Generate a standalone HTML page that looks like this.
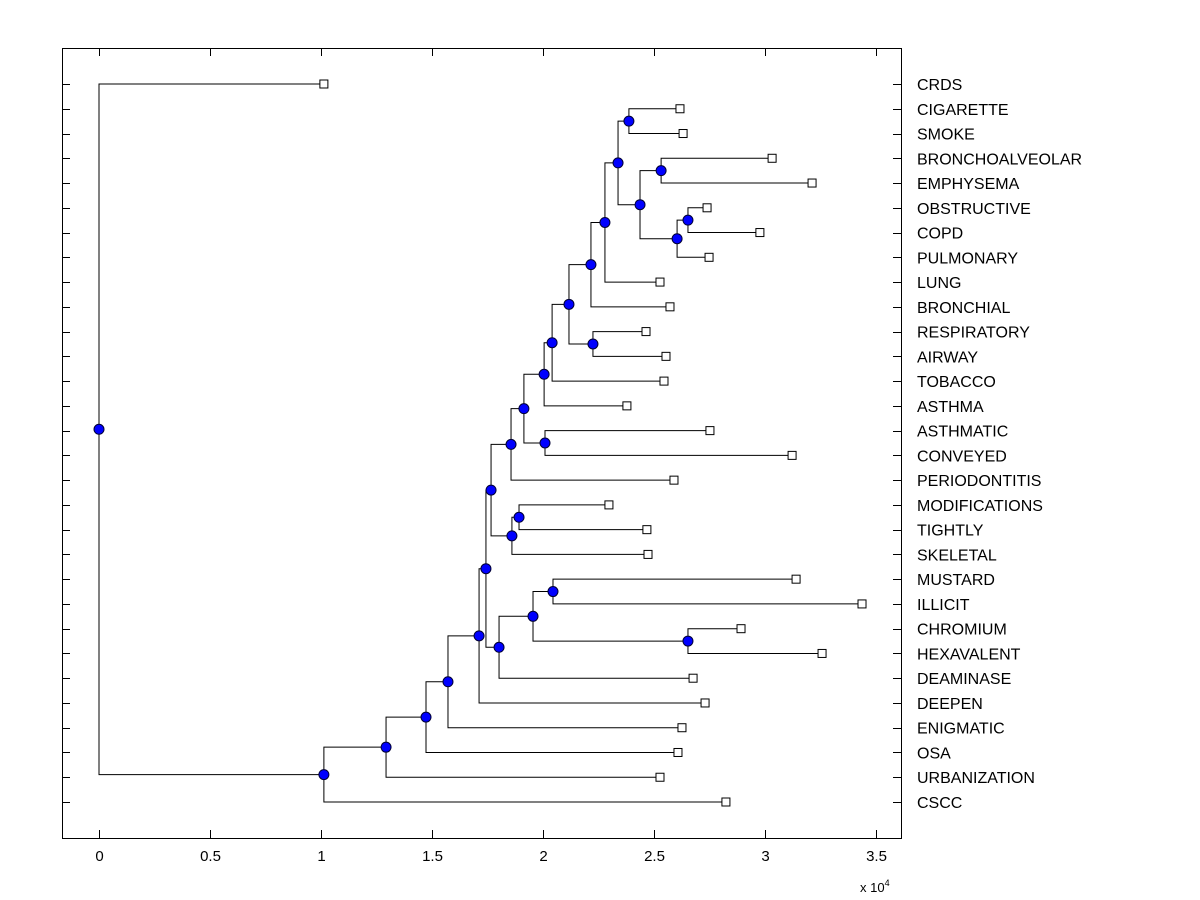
<!DOCTYPE html>
<html><head><meta charset="utf-8">
<style>
body{margin:0;background:#fff;}
svg{display:block;font-family:"Liberation Sans",Arial,sans-serif;}
</style></head>
<body>
<svg id="chart" width="1200" height="900" viewBox="0 0 1200 900">
<rect x="62.5" y="48.5" width="839" height="790" fill="#fff" stroke="#000" stroke-width="1"/>
<g id="g-lines"></g>
<g id="g-marks"></g>
<g id="g-axes"></g>
<text x="860" y="892" font-size="13">x 10<tspan dy="-6" font-size="9">4</tspan></text>
</svg>
<script>
const leafNames = ["CRDS","CIGARETTE","SMOKE","BRONCHOALVEOLAR","EMPHYSEMA","OBSTRUCTIVE","COPD","PULMONARY","LUNG","BRONCHIAL","RESPIRATORY","AIRWAY","TOBACCO","ASTHMA","ASTHMATIC","CONVEYED","PERIODONTITIS","MODIFICATIONS","TIGHTLY","SKELETAL","MUSTARD","ILLICIT","CHROMIUM","HEXAVALENT","DEAMINASE","DEEPEN","ENIGMATIC","OSA","URBANIZATION","CSCC"];
const leafValues = [1.013,2.617,2.631,3.032,3.212,2.739,2.977,2.748,2.527,2.572,2.464,2.554,2.545,2.378,2.752,3.122,2.590,2.297,2.468,2.473,3.140,3.437,2.892,3.257,2.676,2.730,2.626,2.608,2.527,2.824];
const mergeLeft  = [1,3,5,32,31,30,35,36,10,37,39,40,14,41,43,17,45,44,20,22,48,50,47,52,53,54,55,56,0];
const mergeRight = [2,4,6,7,33,34,8,9,11,38,12,13,15,42,16,18,19,46,21,23,49,24,51,25,26,27,28,29,57];
const mergeValues = [2.387,2.532,2.653,2.604,2.437,2.338,2.279,2.216,2.225,2.117,2.041,2.005,2.009,1.914,1.856,1.892,1.860,1.766,2.045,2.653,1.955,1.802,1.743,1.712,1.572,1.473,1.293,1.013,0];
const xTicks = [0,0.5,1,1.5,2,2.5,3,3.5];

const NS="http://www.w3.org/2000/svg";
const X0=99, XS=222, Y0=84, YS=(802-84)/29;
const xs=v=>X0+v*XS, ys=i=>Y0+i*YS;
const L=document.getElementById('g-lines'), M=document.getElementById('g-marks'), A=document.getElementById('g-axes');
function mk(tag,attrs,parent){const e=document.createElementNS(NS,tag);for(const k in attrs)e.setAttribute(k,attrs[k]);parent.appendChild(e);return e;}
const n=leafNames.length;
const nx=[], ny=[];
for(let i=0;i<n;i++){nx[i]=leafValues[i];ny[i]=ys(i);}
for(let j=0;j<mergeValues.length;j++){const id=n+j;nx[id]=mergeValues[j];ny[id]=(ny[mergeLeft[j]]+ny[mergeRight[j]])/2;}
for(let j=0;j<mergeValues.length;j++){
  const px=xs(mergeValues[j]);
  const a=mergeLeft[j], b=mergeRight[j];
  const p=mk('path',{d:`M${xs(nx[a])},${ny[a]}H${px}V${ny[b]}H${xs(nx[b])}`,fill:'none',stroke:'#000','stroke-width':1},L);
  
  
}
for(let j=0;j<mergeValues.length;j++){
  const c=mk('circle',{cx:xs(mergeValues[j]),cy:ny[n+j],r:5,fill:'#0000ff',stroke:'#000033','stroke-width':1},M);
  
  
}
for(let i=0;i<n;i++){
  const r=mk('rect',{x:xs(leafValues[i])-4,y:ys(i)-4,width:8,height:8,fill:'#fff',stroke:'#000','stroke-width':1},M);
  
  
  const y=Math.round(ys(i))+0.5;
  mk('line',{x1:62,x2:70,y1:y,y2:y,stroke:'#000'},A);
  mk('line',{x1:893,x2:901,y1:y,y2:y,stroke:'#000'},A);
  const t=mk('text',{x:917,y:ys(i)+6,'font-size':16},A);
  t.textContent=leafNames[i];
  
  
}
xTicks.forEach(v=>{
  const x=Math.round(xs(v))+0.5;
  mk('line',{x1:x,x2:x,y1:838,y2:830,stroke:'#000'},A);
  mk('line',{x1:x,x2:x,y1:48,y2:56,stroke:'#000'},A);
  const t=mk('text',{x:x,y:861,'font-size':15,'text-anchor':'middle'},A);
  t.textContent=String(v);
  
  
});
</script>
</body></html>
